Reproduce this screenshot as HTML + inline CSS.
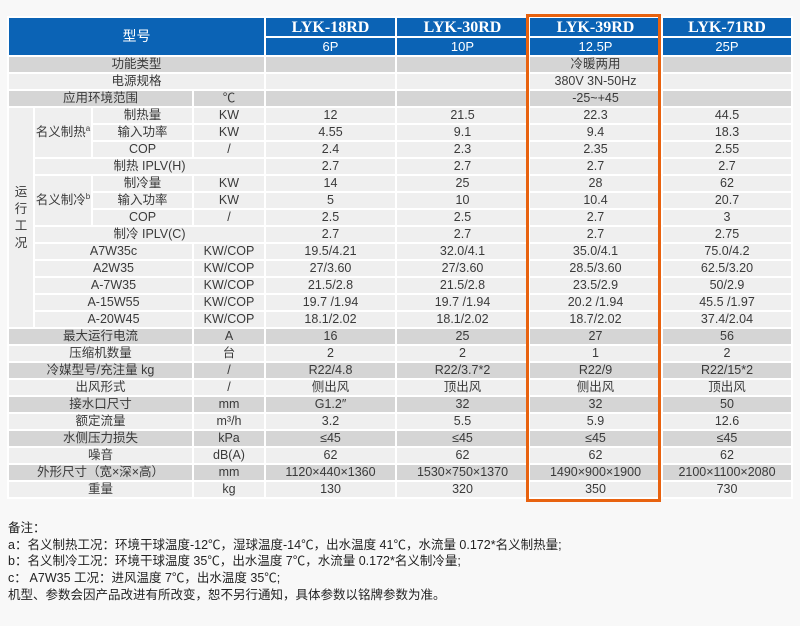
<!DOCTYPE html>
<html><head><meta charset="utf-8"><style>
body{margin:0;width:800px;height:626px;background:#f8f8f8;position:relative;overflow:hidden;font-family:"Liberation Sans","Noto Sans CJK SC",sans-serif;color:#3a3a3a}
table{position:absolute;left:7px;top:16px;border-collapse:collapse;table-layout:fixed;width:784px;font-size:12.5px}
td{border:2px solid #fff;text-align:center;padding:0;height:15px;line-height:15px;white-space:nowrap;overflow:hidden}
tr.g td{background:#d5d5d5}
tr.l td{background:#efefef}
td.s{background:#efefef}
.h td{background:#0b63b5;color:#fff}
.m{font-family:"Liberation Serif",serif;font-weight:bold;font-size:16px}
sup{font-size:8px;line-height:0}
.box{position:absolute;left:526px;top:14px;width:129px;height:482px;border:3px solid #e8620f}
.notes{position:absolute;left:8px;top:520px;font-size:12.5px;line-height:16.7px;color:#222}
</style></head><body>
<table>
<colgroup><col style="width:26px"><col style="width:58px"><col style="width:101px"><col style="width:72px"><col style="width:131px"><col style="width:133px"><col style="width:133px"><col style="width:130px"></colgroup>
<tr class="h" style="height:20px"><td colspan="4" rowspan="2" style="font-size:14px">型号</td><td class="m">LYK-18RD</td><td class="m">LYK-30RD</td><td class="m">LYK-39RD</td><td class="m">LYK-71RD</td></tr>
<tr class="h" style="height:19px"><td style="font-size:13px">6P</td><td style="font-size:13px">10P</td><td style="font-size:13px">12.5P</td><td style="font-size:13px">25P</td></tr>
<tr class="g"><td colspan="4">功能类型</td><td></td><td></td><td>冷暖两用</td><td></td></tr>
<tr class="l"><td colspan="4">电源规格</td><td></td><td></td><td>380V 3N-50Hz</td><td></td></tr>
<tr class="g"><td colspan="3">应用环境范围</td><td>℃</td><td></td><td></td><td>-25~+45</td><td></td></tr>
<tr class="l"><td rowspan="13" class="s" style="line-height:17px;white-space:normal;vertical-align:middle">运<br>行<br>工<br>况</td><td rowspan="3">名义制热<sup>a</sup></td><td>制热量</td><td>KW</td><td>12</td><td>21.5</td><td>22.3</td><td>44.5</td></tr>
<tr class="l"><td>输入功率</td><td>KW</td><td>4.55</td><td>9.1</td><td>9.4</td><td>18.3</td></tr>
<tr class="l"><td>COP</td><td>/</td><td>2.4</td><td>2.3</td><td>2.35</td><td>2.55</td></tr>
<tr class="l"><td colspan="3">制热 IPLV(H)</td><td>2.7</td><td>2.7</td><td>2.7</td><td>2.7</td></tr>
<tr class="l"><td rowspan="3">名义制冷<sup>b</sup></td><td>制冷量</td><td>KW</td><td>14</td><td>25</td><td>28</td><td>62</td></tr>
<tr class="l"><td>输入功率</td><td>KW</td><td>5</td><td>10</td><td>10.4</td><td>20.7</td></tr>
<tr class="l"><td>COP</td><td>/</td><td>2.5</td><td>2.5</td><td>2.7</td><td>3</td></tr>
<tr class="l"><td colspan="3">制冷 IPLV(C)</td><td>2.7</td><td>2.7</td><td>2.7</td><td>2.75</td></tr>
<tr class="l"><td colspan="2">A7W35c</td><td>KW/COP</td><td>19.5/4.21</td><td>32.0/4.1</td><td>35.0/4.1</td><td>75.0/4.2</td></tr>
<tr class="l"><td colspan="2">A2W35</td><td>KW/COP</td><td>27/3.60</td><td>27/3.60</td><td>28.5/3.60</td><td>62.5/3.20</td></tr>
<tr class="l"><td colspan="2">A-7W35</td><td>KW/COP</td><td>21.5/2.8</td><td>21.5/2.8</td><td>23.5/2.9</td><td>50/2.9</td></tr>
<tr class="l"><td colspan="2">A-15W55</td><td>KW/COP</td><td>19.7 /1.94</td><td>19.7 /1.94</td><td>20.2 /1.94</td><td>45.5 /1.97</td></tr>
<tr class="l"><td colspan="2">A-20W45</td><td>KW/COP</td><td>18.1/2.02</td><td>18.1/2.02</td><td>18.7/2.02</td><td>37.4/2.04</td></tr>
<tr class="g"><td colspan="3">最大运行电流</td><td>A</td><td>16</td><td>25</td><td>27</td><td>56</td></tr>
<tr class="l"><td colspan="3">压缩机数量</td><td>台</td><td>2</td><td>2</td><td>1</td><td>2</td></tr>
<tr class="g"><td colspan="3">冷媒型号/充注量 kg</td><td>/</td><td>R22/4.8</td><td>R22/3.7*2</td><td>R22/9</td><td>R22/15*2</td></tr>
<tr class="l"><td colspan="3">出风形式</td><td>/</td><td>侧出风</td><td>顶出风</td><td>侧出风</td><td>顶出风</td></tr>
<tr class="g"><td colspan="3">接水口尺寸</td><td>mm</td><td>G1.2″</td><td>32</td><td>32</td><td>50</td></tr>
<tr class="l"><td colspan="3">额定流量</td><td>m³/h</td><td>3.2</td><td>5.5</td><td>5.9</td><td>12.6</td></tr>
<tr class="g"><td colspan="3">水侧压力损失</td><td>kPa</td><td>≤45</td><td>≤45</td><td>≤45</td><td>≤45</td></tr>
<tr class="l"><td colspan="3">噪音</td><td>dB(A)</td><td>62</td><td>62</td><td>62</td><td>62</td></tr>
<tr class="g"><td colspan="3">外形尺寸（宽×深×高）</td><td>mm</td><td>1120×440×1360</td><td>1530×750×1370</td><td>1490×900×1900</td><td>2100×1100×2080</td></tr>
<tr class="l"><td colspan="3">重量</td><td>kg</td><td>130</td><td>320</td><td>350</td><td>730</td></tr>
</table>
<div class="box"></div>
<div class="notes">备注：<br>a：名义制热工况：环境干球温度-12℃，湿球温度-14℃，出水温度 41℃，水流量 0.172*名义制热量;<br>b：名义制冷工况：环境干球温度 35℃，出水温度 7℃，水流量 0.172*名义制冷量;<br>c： A7W35 工况：进风温度 7℃，出水温度 35℃;<br>机型、参数会因产品改进有所改变，恕不另行通知，具体参数以铭牌参数为准。</div>
</body></html>
